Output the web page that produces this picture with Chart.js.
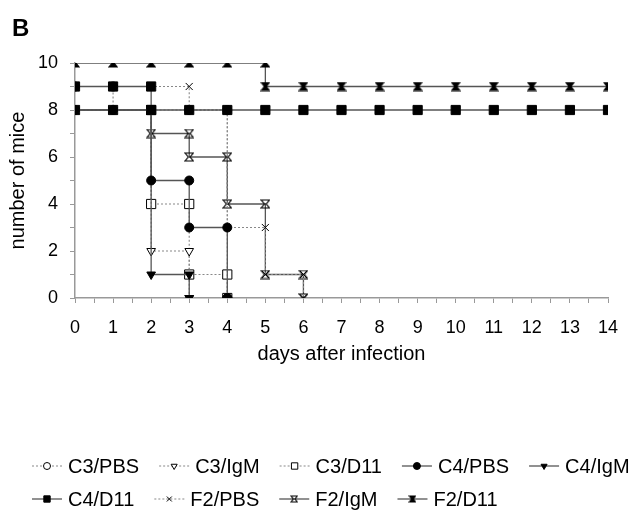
<!DOCTYPE html>
<html>
<head>
<meta charset="utf-8">
<script src="https://cdn.jsdelivr.net/npm/chart.js@4.4.1/dist/chart.umd.min.js"></script>
<style>
  html, body { margin: 0; padding: 0; background: #fff; }
  #wrap { position: relative; width: 637px; height: 516px; }
  #panel { position: absolute; left: 12px; top: 14px; font: bold 24px "Liberation Sans", Arial, sans-serif; }
</style>
</head>
<body>
<div id="wrap">
  <canvas id="myChart" width="637" height="516"></canvas>
  <div id="panel">B</div>
</div>
<script>
// survival data: days of each step point and number of mice alive
var c3pbsDays = [0, 1, 1, 2, 3, 4, 4];
var c3pbsMice = [9, 9, 8, 8, 8, 8, 0];
var c3igmDays = [0, 1, 2, 2, 3, 3];
var c3igmMice = [8, 8, 8, 2, 2, 0];
var c3d11Days = [0, 1, 2, 2, 3, 3, 4, 4];
var c3d11Mice = [8, 8, 8, 4, 4, 1, 1, 0];
var c4pbsDays = [0, 1, 2, 2, 3, 3, 4, 4];
var c4pbsMice = [8, 8, 8, 5, 5, 3, 3, 0];
var c4igmDays = [0, 1, 2, 2, 3, 3];
var c4igmMice = [8, 8, 8, 1, 1, 0];
var c4d11Days = [0, 1, 2, 2, 3, 4, 5, 6, 7, 8, 9, 10, 11, 12, 13, 14];
var c4d11Mice = [9, 9, 9, 8, 8, 8, 8, 8, 8, 8, 8, 8, 8, 8, 8, 8];
var f2pbsDays = [0, 1, 2, 3, 3, 4, 4, 5, 5, 6, 6];
var f2pbsMice = [9, 9, 9, 9, 8, 8, 3, 3, 1, 1, 0];
var f2igmDays = [0, 1, 2, 2, 3, 3, 4, 4, 5, 5, 6, 6];
var f2igmMice = [8, 8, 8, 7, 7, 6, 6, 4, 4, 1, 1, 0];
var f2d11Days = [0, 1, 2, 3, 4, 5, 5, 6, 7, 8, 9, 10, 11, 12, 13, 14];
var f2d11Mice = [10, 10, 10, 10, 10, 10, 9, 9, 9, 9, 9, 9, 9, 9, 9, 9];

var groupNames = ['C3/PBS', 'C3/IgM', 'C3/D11', 'C4/PBS', 'C4/IgM', 'C4/D11', 'F2/PBS', 'F2/IgM', 'F2/D11'];

function toPoints(days, mice) {
    return days.map((d, i) => ({ x: d, y: mice[i] }));
}

// hourglass markers for the F2 groups
function hourglass(filled, size) {
    var c = document.createElement('canvas');
    c.width = size; c.height = size;
    var g = c.getContext('2d');
    g.strokeStyle = '#000';
    g.fillStyle = '#000';
    g.lineWidth = 1.2;
    var s = size - 1;
    g.beginPath();
    g.moveTo(1, 1); g.lineTo(s, 1);
    g.lineTo(size / 2 + 1, size / 2);
    g.lineTo(s, s); g.lineTo(1, s);
    g.lineTo(size / 2 - 1, size / 2);
    g.closePath();
    if (filled) g.fill();
    g.stroke();
    return c;
}
var hgOpen = hourglass(false, 10);
var hgFilled = hourglass(true, 10);
var hgOpenSmall = hourglass(false, 8);
var hgFilledSmall = hourglass(true, 8);

var dotted = [2, 2];
function ds(i, days, mice, style, rot, fill, dash, order) {
    return {
        label: groupNames[i],
        data: toPoints(days, mice),
        showLine: true,
        borderColor: dash ? '#888' : '#555',
        borderWidth: dash ? 1.1 : 1.3,
        borderDash: dash ? dotted : [],
        pointStyle: style,
        rotation: rot,
        pointRadius: style === 'rect' ? 6.5 : 5,
        pointBackgroundColor: fill ? '#000' : '#fff',
        pointBorderColor: '#000',
        pointBorderWidth: 1,
        order: order
    };
}

var datasets = [
    ds(0, c3pbsDays, c3pbsMice, 'circle', 0, false, true, 3),
    ds(1, c3igmDays, c3igmMice, 'triangle', 180, false, true, 3),
    ds(2, c3d11Days, c3d11Mice, 'rect', 0, false, true, 3),
    ds(3, c4pbsDays, c4pbsMice, 'circle', 0, true, false, 1),
    ds(4, c4igmDays, c4igmMice, 'triangle', 180, true, false, 1),
    ds(5, c4d11Days, c4d11Mice, 'rect', 0, true, false, 1),
    ds(6, f2pbsDays, f2pbsMice, 'crossRot', 0, false, true, 2),
    ds(7, f2igmDays, f2igmMice, hgOpen, 0, false, false, 2),
    ds(8, f2d11Days, f2d11Mice, hgFilled, 0, true, false, 1)
];
datasets[0].pointRadius = 4.5;
datasets[3].pointRadius = 4.5;

// legend drawn below the plot, line sample + marker + text
var legendRows = [[0, 1, 2, 3, 4], [5, 6, 7, 8]];
const legendPlugin = {
    id: 'bottomLegend',
    afterDraw(chart) {
        var c = chart.ctx;
        c.save();
        c.font = '20px "Liberation Sans", Arial, sans-serif';
        c.textBaseline = 'middle';
        c.fillStyle = '#000';
        var rowY = [466, 499];
        legendRows.forEach((row, r) => {
            var x = 32;
            row.forEach(i => {
                var d = chart.data.datasets[i];
                var y = rowY[r];
                c.save();
                c.strokeStyle = d.borderColor;
                c.lineWidth = d.borderWidth;
                c.setLineDash(d.borderDash);
                c.beginPath();
                c.moveTo(x, y); c.lineTo(x + 30, y);
                c.stroke();
                c.restore();
                var st = d.pointStyle;
                if (st === hgOpen) st = hgOpenSmall;
                if (st === hgFilled) st = hgFilledSmall;
                c.save();
                c.fillStyle = d.pointBackgroundColor;
                c.strokeStyle = '#000';
                c.lineWidth = 1;
                Chart.helpers.drawPoint(c, { pointStyle: st, rotation: d.rotation, radius: d.pointStyle === 'rect' ? 4.5 : 3.5, borderWidth: 1 }, x + 15, y);
                c.restore();
                c.fillText(d.label, x + 36, y + 1);
                x += 36 + c.measureText(d.label).width + 20;
            });
        });
        c.restore();
    }
};

const ctx = document.getElementById('myChart');
const chart = new Chart(ctx, {
    type: 'scatter',
    data: { datasets: datasets },
    plugins: [legendPlugin],
    options: {
        responsive: false,
        animation: false,
        layout: { padding: { left: 6, right: 29, top: 63, bottom: 150 } },
        plugins: { legend: { display: false }, tooltip: { enabled: false } },
        scales: {
            x: {
                type: 'linear',
                min: 0,
                max: 14,
                border: { color: '#999', width: 1.5 },
                grid: { drawOnChartArea: false, drawTicks: true, tickLength: 5, color: '#999' },
                ticks: {
                    stepSize: 0.5,
                    autoSkip: false,
                    maxRotation: 0,
                    color: '#000',
                    padding: 14,
                    font: { size: 18, family: '"Liberation Sans", Arial, sans-serif' },
                    callback: v => (Number.isInteger(v) ? v : '')
                },
                title: {
                    display: true,
                    text: 'days after infection',
                    color: '#000',
                    padding: 0,
                    font: { size: 20, family: '"Liberation Sans", Arial, sans-serif' }
                },
                afterFit: s => { s.height = 68; s.paddingLeft = 0; s.paddingRight = 0; }
            },
            y: {
                min: 0,
                max: 10,
                border: { color: '#999', width: 1.5 },
                grid: { drawOnChartArea: false, drawTicks: true, tickLength: 5, color: '#999' },
                ticks: {
                    stepSize: 1,
                    autoSkip: false,
                    color: '#000',
                    padding: 12,
                    font: { size: 18, family: '"Liberation Sans", Arial, sans-serif' },
                    callback: v => (v % 2 === 0 ? v : '')
                },
                title: {
                    display: true,
                    text: 'number of mice',
                    color: '#000',
                    padding: 0,
                    font: { size: 20, family: '"Liberation Sans", Arial, sans-serif' }
                },
                afterFit: s => { s.width = 69; s.paddingTop = 0; s.paddingBottom = 0; }
            }
        }
    }
});
</script>
</body>
</html>
